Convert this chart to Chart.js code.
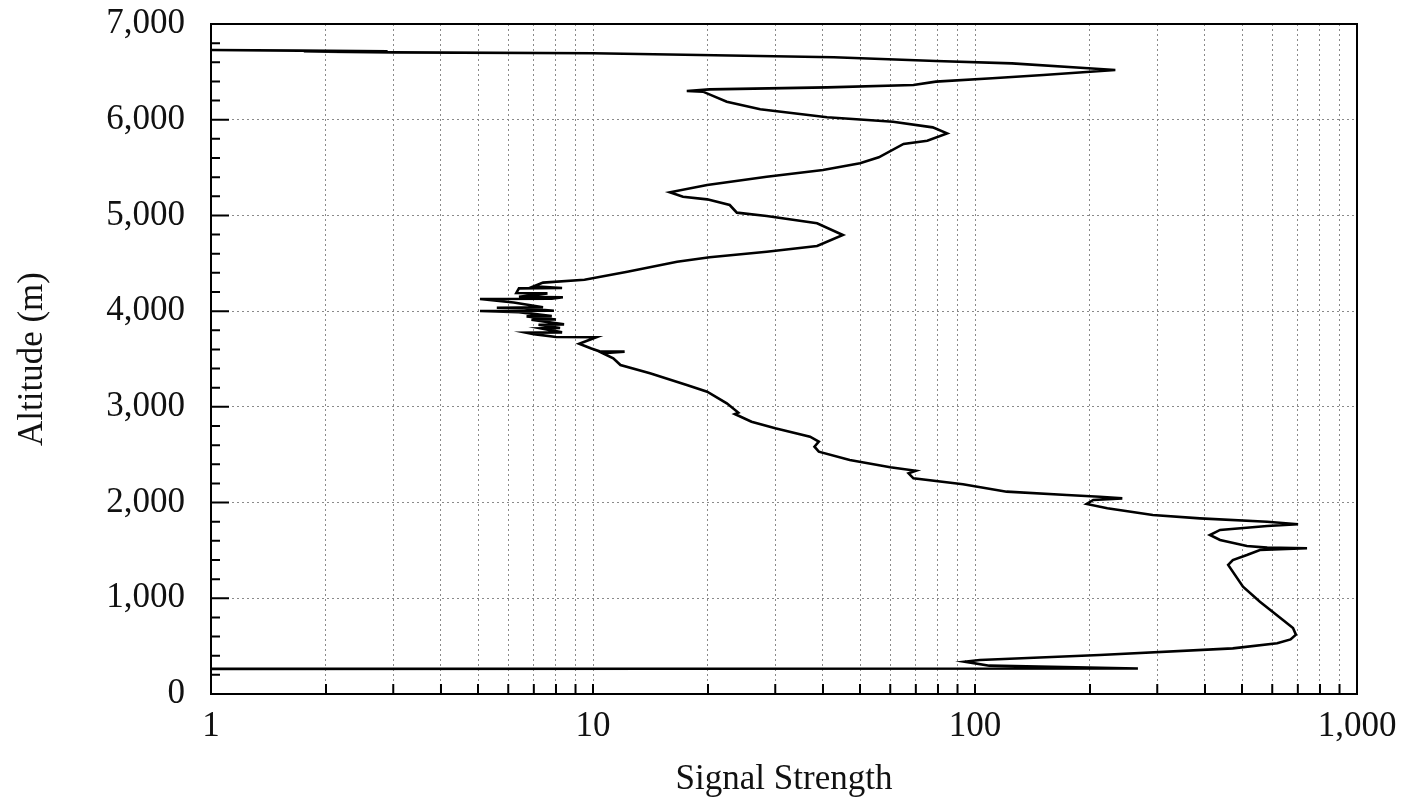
<!DOCTYPE html>
<html lang="en">
<head>
    <meta charset="UTF-8">
    <title>Signal Strength vs Altitude</title>
    <script src="https://cdn.jsdelivr.net/npm/chart.js"></script>
    <style>
        html, body { margin: 0; padding: 0; background: #fff; }
        #wrap { width: 1407px; height: 807px; }
    </style>
</head>
<body>
    <div id="wrap"><canvas id="profileChart"></canvas></div>
    <script>
        // Profile, bottom to top
        const signal = [
            1, 267, 109, 94, 103, 212, 473, 618, 670, 692, 680, 640, 557, 503, 460, 473, 515, 557, 740, 582,
            515, 438, 412, 438, 582, 701, 582, 388, 292, 222, 196, 204, 243, 212, 174, 121, 93, 69, 67, 70,
            60, 47, 39, 38, 39, 37, 30, 26, 23.5, 24, 22.4, 19.9, 17.6, 14.1, 11.8, 11.3, 10.6, 12.1, 10.4, 9.9,
            9.2, 10.2, 8.0, 7.0, 6.7, 8.3, 7.3, 8.2, 7.2, 8.4, 6.9, 8.0, 6.7, 7.8, 6.4, 5.06, 7.9, 6.6, 5.6, 7.4,
            6.2, 5.06, 7.8, 8.34, 6.4, 7.6, 6.3, 6.4, 8.3, 7.0, 7.4, 9.5, 12.3, 16.6, 20.2, 28.5, 38.6, 45.1, 38.6, 28.5,
            23.8, 22.8, 19.9, 17.2, 15.9, 19.9, 28.5, 40, 50, 56, 65, 75, 84.5, 77.5, 61, 41, 27.4, 22.4, 19.4, 17.6,
            20.2, 41, 69, 79, 111, 151, 233, 198, 125, 79, 42.7, 19, 10, 3.0, 1.75, 2.9, 1.7, 1
        ];
        const altitude = [
            262, 266, 296, 338, 355, 407, 477, 530, 570, 620, 690, 773, 964, 1121, 1348, 1400, 1452, 1505, 1522, 1529,
            1546, 1609, 1661, 1714, 1755, 1773, 1800, 1835, 1870, 1940, 1985, 2027, 2044, 2061, 2079, 2114, 2191, 2253, 2306, 2333,
            2369, 2445, 2532, 2584, 2636, 2688, 2776, 2845, 2925, 2940, 3037, 3159, 3228, 3350, 3437, 3507, 3560, 3577, 3580, 3610,
            3660, 3727, 3730, 3760, 3775, 3778, 3820, 3824, 3858, 3862, 3910, 3913, 3945, 3948, 3990, 4001, 4004, 4030, 4035, 4040,
            4090, 4127, 4130, 4145, 4150, 4186, 4190, 4238, 4242, 4260, 4298, 4328, 4412, 4517, 4563, 4621, 4681, 4796, 4918, 4994,
            5029, 5109, 5168, 5196, 5242, 5318, 5405, 5475, 5545, 5607, 5747, 5781, 5857, 5920, 5979, 6025, 6109, 6188, 6293, 6300,
            6317, 6338, 6363, 6398, 6433, 6467, 6520, 6537, 6589, 6614, 6652, 6676, 6694, 6704, 6712, 6716, 6722, 6728
        ];

        const xTickValues = [1, 2, 3, 4, 5, 6, 7, 8, 9, 10, 20, 30, 40, 50, 60, 70, 80, 90,
            100, 200, 300, 400, 500, 600, 700, 800, 900, 1000];
        const xTickLabels = { 1: '1', 10: '10', 100: '100', 1000: '1,000' };

        const textFont = { family: 'Liberation Serif', size: 35 };
        const gridGray = '#8a8a8a';

        // tick marks point into the plot, plus a closed frame
        const insideTicks = {
            id: 'insideTicks',
            afterDatasetsDraw(chart) {
                const { ctx, chartArea: a, scales: { x, y } } = chart;
                ctx.save();
                ctx.strokeStyle = '#000';
                ctx.lineWidth = 2;
                ctx.beginPath();
                y.ticks.forEach(t => {
                    const py = y.getPixelForValue(t.value);
                    const len = t.value % 1000 === 0 ? 18 : 9;
                    ctx.moveTo(a.left, py);
                    ctx.lineTo(a.left + len, py);
                });
                x.ticks.forEach(t => {
                    const px = x.getPixelForValue(t.value);
                    ctx.moveTo(px, a.bottom);
                    ctx.lineTo(px, a.bottom - 10);
                });
                ctx.stroke();
                ctx.strokeRect(a.left, a.top, a.right - a.left, a.bottom - a.top);
                ctx.restore();
            }
        };

        new Chart(document.getElementById('profileChart'), {
            type: 'scatter',
            data: {
                datasets: [{
                    data: signal.map((s, i) => ({ x: s, y: altitude[i] })),
                    showLine: true,
                    borderColor: '#000',
                    borderWidth: 2.6,
                    pointRadius: 0,
                    tension: 0,
                    fill: false
                }]
            },
            options: {
                responsive: true,
                maintainAspectRatio: false,
                animation: false,
                layout: { padding: { top: 24, right: 50, left: 0, bottom: 0 } },
                plugins: { legend: { display: false }, tooltip: { enabled: false } },
                scales: {
                    x: {
                        type: 'logarithmic',
                        min: 1,
                        max: 1000,
                        afterBuildTicks: scale => {
                            scale.ticks = xTickValues.map(v => ({ value: v }));
                        },
                        afterFit: scale => {
                            scale.height = 113;
                            scale.paddingLeft = 0;
                            scale.paddingRight = 0;
                        },
                        ticks: {
                            autoSkip: false,
                            maxRotation: 0,
                            padding: 12,
                            color: '#111',
                            font: textFont,
                            callback: value => xTickLabels[value] || ''
                        },
                        grid: { color: gridGray, lineWidth: 1, drawTicks: false },
                        border: { color: '#000', width: 2, dash: [2, 3] },
                        title: {
                            display: true,
                            text: 'Signal Strength',
                            color: '#111',
                            font: textFont,
                            padding: { top: 0, bottom: 6 }
                        }
                    },
                    y: {
                        min: 0,
                        max: 7000,
                        afterFit: scale => {
                            scale.width = 211;
                            scale.paddingTop = 0;
                            scale.paddingBottom = 0;
                        },
                        ticks: {
                            stepSize: 200,
                            autoSkip: false,
                            padding: 26,
                            color: '#111',
                            font: textFont,
                            callback: value => value % 1000 === 0 ? value.toLocaleString('en-US') : ''
                        },
                        grid: {
                            color: ctx => (ctx.tick && ctx.tick.value % 1000 === 0) ? gridGray : 'rgba(0,0,0,0)',
                            lineWidth: 1,
                            drawTicks: false
                        },
                        border: { color: '#000', width: 2, dash: [2, 3] },
                        title: {
                            display: true,
                            text: 'Altitude (m)',
                            color: '#111',
                            font: textFont,
                            padding: { top: 12, bottom: 0 }
                        }
                    }
                }
            },
            plugins: [insideTicks]
        });
    </script>
</body>
</html>
